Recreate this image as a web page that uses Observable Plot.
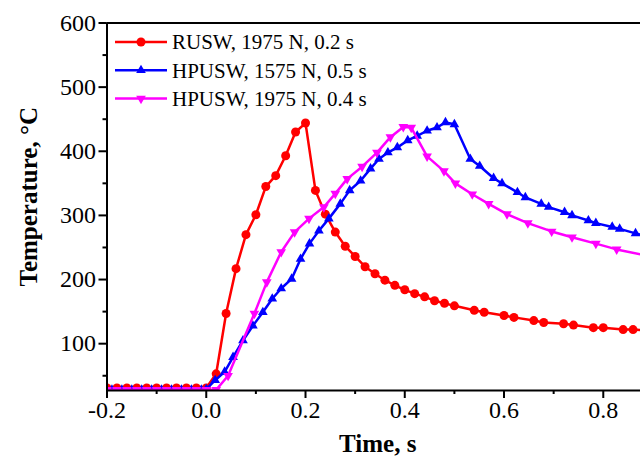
<!DOCTYPE html>
<html><head><meta charset="utf-8">
<script src="https://cdn.jsdelivr.net/npm/d3@7"></script>
<script src="https://cdn.jsdelivr.net/npm/@observablehq/plot@0.6"></script>
<style>
body{margin:0;background:#fff;}
#wrap{position:relative;width:640px;height:456px;overflow:hidden;}
#legend{position:absolute;left:0;top:0;pointer-events:none;}
</style></head><body><div id="wrap"></div>
<script>
const seriesNames = ["RUSW, 1975 N, 0.2 s", "HPUSW, 1575 N, 0.5 s", "HPUSW, 1975 N, 0.4 s"];
const seriesColors = ["#ff0000", "#0000ff", "#ff00ff"];
const seriesSymbols = ["circle", "up", "down"];

const ruswTime = [-0.2,-0.18,-0.16,-0.14,-0.12,-0.1,-0.08,-0.06,-0.04,-0.02,0.0,
  0.02,0.04,0.06,0.08,0.10,0.12,0.14,0.16,0.18,0.20,0.22,0.24,0.26,0.28,0.30,0.32,0.34,0.36,0.38,0.40,
  0.42,0.44,0.46,0.48,0.50,0.54,0.56,0.60,0.62,0.66,0.68,0.72,0.74,0.78,0.80,0.84,0.86,0.90];
const ruswTemp = [31,31,31,31,31,31,31,31,31,31,31,
  53,147,217,270,301,345,362,393,430,444,339,302,274,252,236,220,209,199,191,184,
  178,173,167,163,159,152,149,144,141,136,133,131,129,125,125,122,122,120];

const hp1575Time = [-0.19,-0.17,-0.15,-0.13,-0.11,-0.09,-0.07,-0.05,-0.03,-0.01,0.0,
  0.018,0.037,0.054,0.074,0.094,0.114,0.133,0.151,0.172,0.19,0.208,0.227,0.247,0.27,0.289,0.311,0.331,0.348,0.366,0.385,
  0.406,0.425,0.445,0.465,0.482,0.50,0.532,0.551,0.579,0.596,0.627,0.643,0.675,0.69,0.722,0.737,0.77,0.785,0.818,0.833,0.865,0.897];
const hp1575Temp = [28,28,28,28,28,28,28,28,28,28,29,
  43,56,79,105,128,149,170,186,201,232,256,276,295,318,339,354,373,388,398,406,
  417,424,432,437,445,442,388,377,358,350,336,328,318,313,305,300,292,288,282,279,272,266];

const hp1975Time = [-0.2,-0.18,-0.16,-0.14,-0.12,-0.1,-0.08,-0.06,-0.04,-0.02,0.0,0.02,
  0.044,0.097,0.122,0.151,0.178,0.207,0.237,0.26,0.284,0.314,0.344,0.371,0.397,0.413,
  0.445,0.479,0.502,0.536,0.569,0.606,0.648,0.696,0.737,0.785,0.827,0.89];
const hp1975Temp = [28,28,28,28,28,28,28,28,28,28,28,28,
  50,147,196,243,274,295,313,334,357,376,398,422,438,437,
  392,369,350,333,318,302,288,275,266,256,247,237];

const xDomain = [-0.2, 0.875];
const yDomain = [27, 600];
const xMajorTicks = [-0.2, 0.0, 0.2, 0.4, 0.6, 0.8];
const xMinorTicks = [-0.1, 0.1, 0.3, 0.5, 0.7];
const yMajorTicks = [100, 200, 300, 400, 500, 600];
const yMinorTicks = [50, 150, 250, 350, 450, 550];
const xTitle = "Time, s";
const yTitle = "Temperature, °C";

const FONT = "Liberation Serif, Times New Roman, serif";

function symbolFor(kind) {
  if (kind === "circle") return "circle";
  const dir = kind === "up" ? 1 : -1;
  return {
    draw(ctx, size) {
      const r = Math.sqrt(size / Math.PI) * 1.3;
      ctx.moveTo(0, -r * dir);
      ctx.lineTo(r * 0.866, r * 0.5 * dir);
      ctx.lineTo(-r * 0.866, r * 0.5 * dir);
      ctx.closePath();
    }
  };
}

const series = [
  {name: seriesNames[0], color: seriesColors[0], sym: seriesSymbols[0], r: 4.5,
   data: ruswTime.map((t, i) => ({t, v: ruswTemp[i]}))},
  {name: seriesNames[1], color: seriesColors[1], sym: seriesSymbols[1], r: 4.3,
   data: hp1575Time.map((t, i) => ({t, v: hp1575Temp[i]}))},
  {name: seriesNames[2], color: seriesColors[2], sym: seriesSymbols[2], r: 4.3,
   data: hp1975Time.map((t, i) => ({t, v: hp1975Temp[i]}))}
];

const marks = [];
for (const s of series) {
  marks.push(Plot.line(s.data, {x: "t", y: "v", stroke: s.color, strokeWidth: 2.5, clip: true}));
  marks.push(Plot.dot(s.data, {x: "t", y: "v", fill: s.color, stroke: "none", r: s.r, symbol: symbolFor(s.sym), clip: true}));
}

marks.push(
  Plot.ruleX([xDomain[0]], {stroke: "black", strokeWidth: 2}),
  Plot.ruleY([yDomain[0]], {stroke: "black", strokeWidth: 2}),
  Plot.ruleY([yDomain[1]], {stroke: "black", strokeWidth: 2}),
  Plot.axisY({ticks: yMajorTicks, tickSize: 8, tickPadding: 3, fontSize: 24, stroke: "black", fill: "black", strokeWidth: 2, strokeOpacity: 1, label: null, tickFormat: d => String(d)}),
  Plot.axisY({ticks: yMinorTicks, tickSize: 4, fill: "none", stroke: "black", strokeWidth: 2, strokeOpacity: 1, label: null}),
  Plot.axisX({ticks: xMajorTicks, tickSize: 8, tickPadding: 2, fontSize: 24, stroke: "black", fill: "black", strokeWidth: 2, strokeOpacity: 1, label: null, tickFormat: d => d.toFixed(1)}),
  Plot.axisX({ticks: xMinorTicks, tickSize: 4, fill: "none", stroke: "black", strokeWidth: 2, strokeOpacity: 1, label: null}),
  Plot.text([yTitle], {text: d => d, frameAnchor: "left", textAnchor: "middle", lineAnchor: "middle", dx: -78, dy: -10, rotate: -90, fontSize: 25, fontWeight: "bold", fill: "black"}),
  Plot.text([xTitle], {text: d => d, frameAnchor: "bottom", textAnchor: "middle", lineAnchor: "middle", dx: 4, dy: 53, fontSize: 25, fontWeight: "bold", fill: "black"})
);

const chart = Plot.plot({
  width: 640,
  height: 456,
  marginLeft: 106.5,
  marginRight: 0,
  marginTop: 22.5,
  marginBottom: 66,
  style: {fontFamily: FONT, background: "white", color: "black", overflow: "hidden"},
  x: {domain: xDomain, label: null},
  y: {domain: yDomain, label: null},
  marks
});

const wrap = document.getElementById("wrap");
wrap.appendChild(chart);

// Legend overlay
const leg = d3.select(wrap).append("svg").attr("id", "legend")
  .attr("width", 640).attr("height", 456);
series.forEach((s, i) => {
  const y = 42 + i * 28.3;
  const g = leg.append("g");
  g.append("line").attr("x1", 115).attr("x2", 167).attr("y1", y).attr("y2", y)
    .attr("stroke", s.color).attr("stroke-width", 2.5);
  const sym = symbolFor(s.sym);
  const path = sym === "circle" ? d3.symbol(d3.symbolCircle, Math.PI * s.r * s.r)() : d3.symbol(sym, Math.PI * s.r * s.r)();
  g.append("path").attr("d", path).attr("transform", `translate(141,${y})`).attr("fill", s.color);
  g.append("text").attr("x", 172).attr("y", y).attr("dy", "0.35em")
    .attr("font-family", FONT).attr("font-size", 21).attr("fill", "black").text(s.name);
});
</script>
</body></html>
